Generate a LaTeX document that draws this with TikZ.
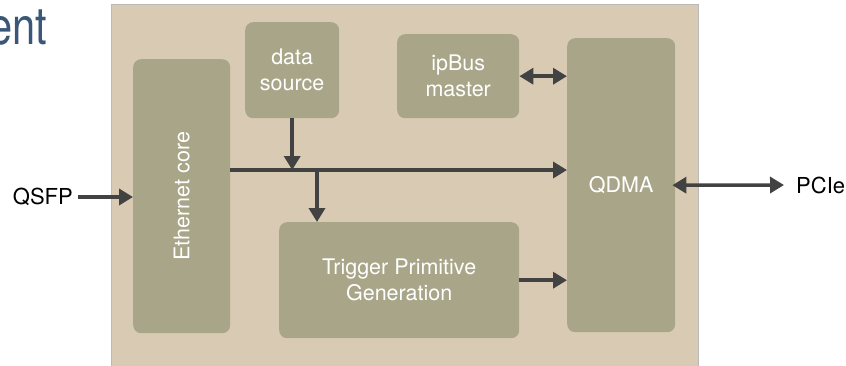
\documentclass[tikz,border=0pt]{standalone}
\usepackage{fontspec}
\setmainfont{TeX Gyre Heros}
\usepackage{xcolor}
\usepackage{tikz}
\usetikzlibrary{shapes.geometric, arrows.meta, positioning}

\definecolor{fpga}{RGB}{217,203,179}
\definecolor{block}{RGB}{168,165,136}
\definecolor{wire}{RGB}{66,66,66}
\definecolor{title}{RGB}{58,86,120}

\begin{document}
\begin{tikzpicture}[
        x=1pt, y=-1pt,
        box/.style={rectangle, rounded corners=8pt, fill=block, text=white, align=center, inner sep=0pt, font=\fontsize{21.5}{26}\selectfont},
        conn/.style={-{Triangle[length=14pt, width=16pt]}, line width=3.5pt, draw=wire},
        both/.style={{Triangle[length=14pt, width=16pt]}-{Triangle[length=14pt, width=16pt]}, line width=3.5pt, draw=wire},
        port/.style={font=\fontsize{22}{26}\selectfont, inner sep=0pt}
    ]
    \useasboundingbox (0,0) rectangle (846,365);

    % Title
    \node[anchor=base east, text=title, font=\fontsize{52}{58}\selectfont, xscale=0.8, inner sep=0pt] (ttl) at (47,44) {ent};

    % FPGA
    \node[rectangle, fill=fpga, draw=gray!55, line width=0.8pt, minimum width=587pt, minimum height=365pt, anchor=north west, inner sep=0pt] (fpga) at (111,4) {};

    % Blocks
    \node[box, minimum width=97pt, minimum height=274pt, anchor=north west] (eth) at (133,59) {};
    \node[rotate=90, text=white, font=\fontsize{21.5}{26}\selectfont] (ethtxt) at (eth.center) {Ethernet core};
    \node[box, minimum width=94pt, minimum height=96pt, anchor=north west] (src) at (245,22) {data\\source};
    \node[box, minimum width=122pt, minimum height=84pt, anchor=north west] (ipbus) at (397,34) {ipBus\\master};
    \node[box, minimum width=108pt, minimum height=294pt, anchor=north west] (qdma) at (567,38) {QDMA};
    \node[box, minimum width=240pt, minimum height=116pt, anchor=north west] (tpg) at (279,222) {Trigger Primitive\\Generation};

    % Ports
    \node[port, anchor=east] (qsfp) at (73,197) {QSFP};
    \node[port, anchor=west] (pcie) at (796,185) {PCIe};

    % Bus
    \coordinate (bus) at (0,170);
    \coordinate (tap) at (317,170);

    % Arrows
    \draw[conn] (qsfp.east) ++(5,0) -- (eth.west |- qsfp.east);
    \draw[conn] (eth.east |- bus) -- (qdma.west |- bus);
    \draw[conn] (src.south) -- (src.south |- bus);
    \draw[conn] (tap) -- (tap |- tpg.north);
    \draw[conn] (tpg.east) -- (tpg.east -| qdma.west);
    \draw[both] (ipbus.east) -- (ipbus.east -| qdma.west);
    \draw[both] ([xshift=-3pt]qdma.east) -- ([xshift=-12pt]pcie.west);

    \end{tikzpicture}
\end{document}
